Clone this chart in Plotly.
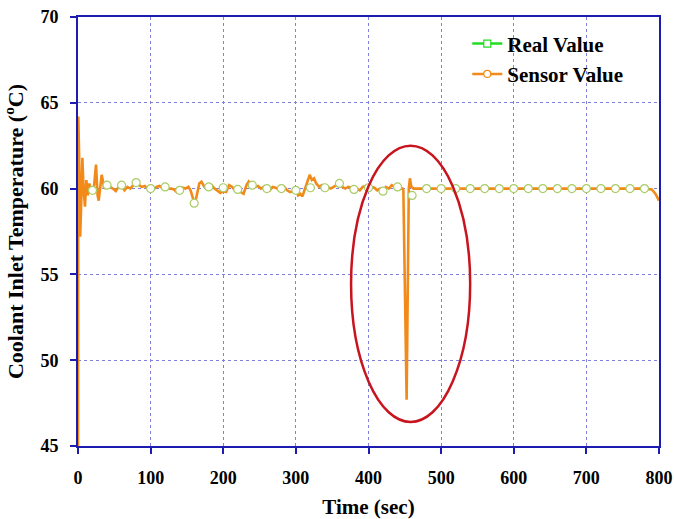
import plotly.graph_objects as go

# ---------------- data ----------------
sensor_t = [0, 0.4, 1.5, 3, 4.5, 6, 7.6, 9.6, 11.5, 13.5, 15.6, 18, 20, 22, 24.8, 27, 28.5, 30.5,
            32.6, 34.5, 36, 40, 44, 48, 52, 56, 60, 64, 68, 72, 76, 80, 84, 88, 92, 96, 100,
            104, 108, 112, 116, 120, 124, 128, 132, 136, 140, 144, 148, 152, 155, 158, 160, 162,
            164, 167, 170, 174, 178, 180, 184, 188, 192, 196, 200, 204, 208, 212, 216, 220, 224, 228,
            232, 235, 238, 240, 244, 248, 252, 256, 260, 264, 268, 272, 276, 280, 284, 288, 292,
            296, 300, 303, 306, 309, 312, 316, 319, 322, 325, 328, 332, 336, 340, 344, 348, 352,
            356, 360, 364, 368, 372, 376, 380, 384, 388, 392, 396, 400, 404, 408, 412, 416, 420,
            424, 428, 432, 436, 440, 444, 447, 448, 452.5, 455.5, 457, 459, 462, 480, 500, 520,
            540, 560, 580, 600, 620, 640, 660, 680, 700, 720, 740, 760, 780, 790, 795, 800]
sensor_v = [45.0, 64.2, 62.0, 57.2, 59.3, 61.8, 60.0, 58.95, 60.5, 59.6, 60.3, 59.9, 60.0, 60.1,
            61.4, 59.6, 59.3, 60.2, 60.8, 60.4, 60.0, 60.2, 60.1, 60.0, 59.85, 60.1, 60.2, 59.9,
            60.1, 60.0, 60.2, 60.35, 60.2, 60.1, 60.15, 60.0, 60.0, 59.95, 60.1, 60.15, 60.05,
            60.1, 60.0, 60.0, 59.95, 59.8, 59.9, 60.05, 60.0, 60.1, 59.9, 59.4, 59.2, 59.3,
            59.8, 60.3, 60.4, 60.1, 60.05, 60.1, 60.2, 60.0, 59.9, 59.75, 59.85, 59.8, 60.2, 60.1, 59.9,
            59.95, 59.8, 59.7, 60.2, 60.4, 60.2, 60.2, 60.1, 60.15, 60.0, 60.1, 60.0, 59.9, 60.1,
            60.05, 59.95, 60.0, 60.1, 59.9, 59.8, 59.85, 59.9, 59.6, 59.7, 59.55, 59.9, 60.4,
            60.8, 60.5, 60.6, 60.3, 60.1, 60.2, 60.05, 60.1, 60.0, 60.1, 60.2, 60.3, 60.1, 60.0,
            60.1, 60.05, 60.0, 60.0, 59.9, 60.1, 60.15, 60.0, 60.1, 60.05, 59.9, 60.0, 59.85,
            60.1, 60.0, 60.2, 60.1, 60.1, 60.0, 60.0, 59.9, 47.7, 60.0, 60.6, 60.1, 60.0, 60.0,
            60.0, 60.0, 60.0, 60.0, 60.0, 60.0, 60.0, 60.0, 60.0, 60.0, 60.0, 60.0, 60.0, 60.0,
            60.0, 59.95, 59.7, 59.3]

real_t = [20, 40, 60, 80, 100, 120, 140, 160, 180, 200, 220, 240, 260, 280, 300, 320, 340,
          360, 380, 400, 420, 440, 460, 480, 500, 520, 540, 560, 580, 600, 620, 640, 660,
          680, 700, 720, 740, 760, 780]
real_v = [59.9, 60.2, 60.2, 60.35, 60.0, 60.1, 59.9, 59.15, 60.1, 60.05, 59.95, 60.2, 60.0,
          60.0, 59.9, 60.05, 60.05, 60.3, 59.95, 60.05, 59.85, 60.1, 59.6, 60.0, 60.0, 60.0,
          60.0, 60.0, 60.0, 60.0, 60.0, 60.0, 60.0, 60.0, 60.0, 60.0, 60.0, 60.0, 60.0]

x_ticks = [0, 100, 200, 300, 400, 500, 600, 700, 800]
y_ticks = [45, 50, 55, 60, 65, 70]

# highlighted region (ellipse), data units
ell_x = [376, 540]
ell_y = [46.4, 62.5]

# ---------------- styles ----------------
GREEN = "#22dd22"
ORANGE = "#f28a1a"
AXIS = "#1c1cb0"
GRID = "#8080d8"
FONT = "Liberation Serif"

fig = go.Figure()
fig.add_trace(go.Scatter(x=sensor_t, y=sensor_v, mode="lines", line=dict(color=ORANGE, width=2.6),
                         showlegend=False))
fig.add_trace(go.Scatter(x=real_t, y=real_v, mode="markers",
                         marker=dict(symbol="circle", size=8, color="white",
                                     line=dict(color="#a9cc66", width=1.2)),
                         showlegend=False))
# legend entries
fig.add_trace(go.Scatter(x=[None], y=[None], mode="lines+markers", name="Real Value",
                         line=dict(color=GREEN, width=2.5),
                         marker=dict(symbol="square", size=7, color="white",
                                     line=dict(color=GREEN, width=1.2))))
fig.add_trace(go.Scatter(x=[None], y=[None], mode="lines+markers", name="Sensor Value",
                         line=dict(color=ORANGE, width=2.5),
                         marker=dict(symbol="circle", size=7, color="white",
                                     line=dict(color=ORANGE, width=1.2))))

fig.add_shape(type="circle", xref="x", yref="y", x0=ell_x[0], x1=ell_x[1], y0=ell_y[0], y1=ell_y[1],
              line=dict(color="#c8141e", width=2.5), layer="above")

axis_common = dict(showline=True, linecolor=AXIS, linewidth=2, mirror=True,
                   ticks="outside", tickcolor=AXIS, ticklen=6, tickwidth=2,
                   showgrid=True, gridcolor=GRID, gridwidth=1, griddash="3px,3px",
                   zeroline=False, ticklabelstandoff=8, automargin=False,
                   tickfont=dict(family=FONT, size=18, color="black", weight="bold"))

fig.update_xaxes(range=[0, 800], tickvals=x_ticks, **axis_common,
                 title=dict(text="Time (sec)", font=dict(family=FONT, size=21, color="black", weight="bold")))
fig.update_yaxes(range=[45, 70], tickvals=y_ticks, **axis_common,
                 title=dict(text="Coolant Inlet Temperature (<sup>o</sup>C)",
                            font=dict(family=FONT, size=22, color="black", weight="bold")))

fig.update_layout(
    width=674, height=519,
    margin=dict(l=78, r=15, t=17, b=73),
    plot_bgcolor="white", paper_bgcolor="white",
    legend=dict(x=0.670, y=0.985, xanchor="left", yanchor="top", bgcolor="rgba(0,0,0,0)",
                font=dict(family=FONT, size=21, color="black", weight="bold"),
                tracegroupgap=0),
)

fig.write_html("out.html")
